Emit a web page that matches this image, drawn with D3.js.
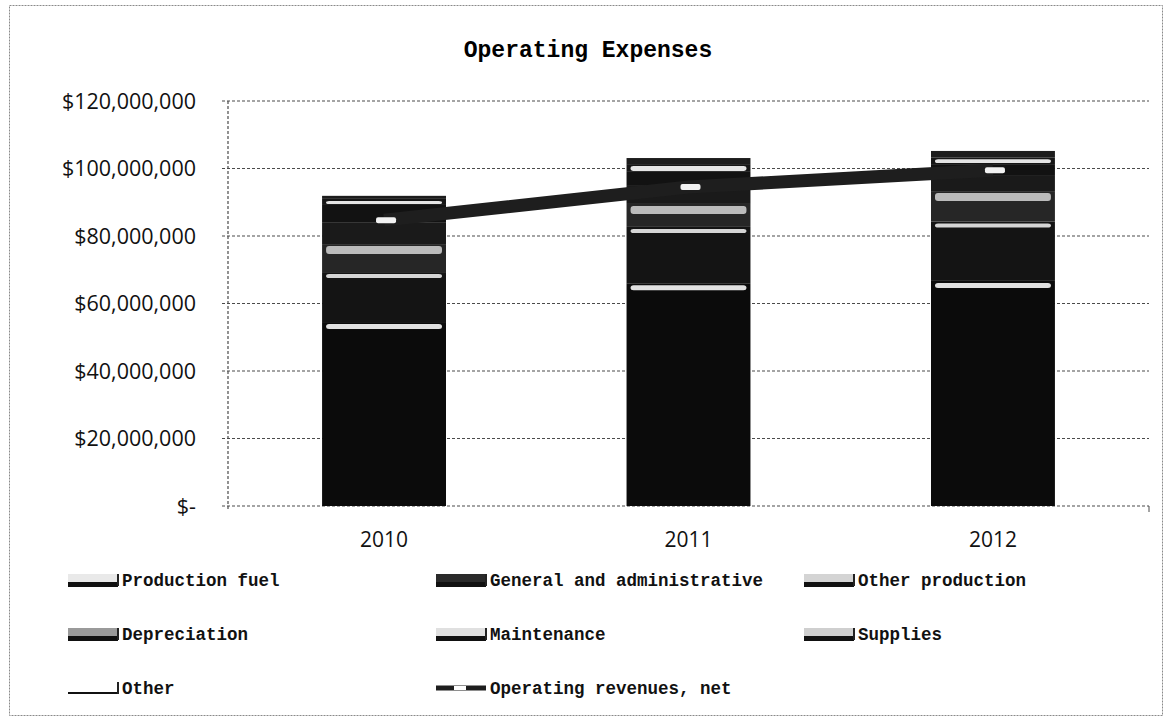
<!DOCTYPE html>
<html>
<head>
<meta charset="utf-8">
<script src="https://cdn.jsdelivr.net/npm/d3@7"></script>
<style>
  body { margin: 0; background: #fff; }
  svg { display: block; }
</style>
</head>
<body>
<svg id="chart" width="1171" height="722"></svg>
<script>
const years = ['2010', '2011', '2012'];
const seriesNames = ['Production fuel', 'General and administrative', 'Other production',
  'Depreciation', 'Maintenance', 'Supplies', 'Other'];

// millions of dollars
const productionFuel = [54.5, 66.0, 66.7];
const generalAdmin = [14.8, 16.7, 17.6];
const otherProduction = [8.3, 6.8, 9.0];
const depreciation = [6.5, 5.6, 4.5];
const maintenance = [5.1, 3.9, 3.5];
const supplies = [1.8, 2.3, 2.0];
const other = [0.9, 1.8, 1.9];
const operatingRevenues = [84.7, 94.5, 99.5];

const yTicks = [0, 20, 40, 60, 80, 100, 120];
const yTickLabels = ['$-', '$20,000,000', '$40,000,000', '$60,000,000', '$80,000,000',
  '$100,000,000', '$120,000,000'];

const seriesValues = [productionFuel, generalAdmin, otherProduction, depreciation,
  maintenance, supplies, other];

const rows = years.map((y, i) => {
  const r = {year: y};
  seriesNames.forEach((s, j) => { r[s] = seriesValues[j][i]; });
  return r;
});

// scanned look: dark fills, a light band on top of some segments
const segFill = ['#0b0b0b', '#141414', '#262626', '#1a1a1a', '#121212', '#161616', '#1c1c1c'];
const segHi = ['#f4f4f4', '#e6e6e6', '#c8c8c8', '#eeeeee', '#f2f2f2', '#f7f7f7', '#d0d0d0'];
const segHiH = [5, 4, 8, 0, 0, 8, 0];
const swatchFill = ['#e9e9e9', '#2a2a2a', '#d4d4d4', '#9a9a9a', '#e0e0e0', '#cfcfcf', '#ffffff'];

const svg = d3.select('#chart');

svg.append('rect')
  .attr('x', 9.5).attr('y', 5.5)
  .attr('width', 1153).attr('height', 710)
  .attr('fill', 'none')
  .attr('stroke', '#8a8a8a')
  .attr('stroke-dasharray', '2,1');

const x = d3.scaleBand()
  .domain(years)
  .range([228, 1149])
  .paddingInner(0.593)
  .paddingOuter(0.309);

const y = d3.scaleLinear()
  .domain([0, 120])
  .range([506, 101]);

svg.append('text')
  .attr('x', 588).attr('y', 57)
  .attr('text-anchor', 'middle')
  .style('font-family', '"Liberation Mono", "Courier New", monospace')
  .style('font-weight', 'bold')
  .style('font-size', '23px')
  .text('Operating Expenses');

// gridlines
svg.append('g')
  .selectAll('line')
  .data(yTicks)
  .join('line')
  .attr('x1', 222).attr('x2', 1149)
  .attr('y1', d => y(d)).attr('y2', d => y(d))
  .attr('stroke', '#4a4a4a')
  .attr('stroke-width', 1.2)
  .attr('stroke-dasharray', '3,2');

svg.append('line')
  .attr('x1', 228).attr('x2', 228)
  .attr('y1', y(120)).attr('y2', y(0) + 4)
  .attr('stroke', '#4a4a4a')
  .attr('stroke-width', 1.2)
  .attr('stroke-dasharray', '3,2');

svg.append('line')
  .attr('x1', 1149).attr('x2', 1149)
  .attr('y1', y(0)).attr('y2', y(0) + 6)
  .attr('stroke', '#4a4a4a');

svg.append('g')
  .selectAll('text')
  .data(yTicks)
  .join('text')
  .attr('x', 196)
  .attr('y', d => y(d))
  .attr('dy', '0.35em')
  .attr('text-anchor', 'end')
  .style('font-family', '"Open Sans", sans-serif')
  .style('font-size', '21.5px')
  .attr('fill', '#111')
  .text((d, i) => yTickLabels[i]);

svg.append('g')
  .selectAll('text')
  .data(years)
  .join('text')
  .attr('x', d => x(d) + x.bandwidth() / 2)
  .attr('y', 547)
  .attr('text-anchor', 'middle')
  .style('font-family', '"Open Sans", sans-serif')
  .style('font-size', '21px')
  .attr('fill', '#111')
  .text(d => d);

// stacked bars
const stacked = d3.stack().keys(seriesNames)(rows);

const layers = svg.append('g')
  .selectAll('g')
  .data(stacked)
  .join('g');

layers.selectAll('rect.seg')
  .data(d => d)
  .join('rect')
  .attr('class', 'seg')
  .attr('x', d => x(d.data.year))
  .attr('width', x.bandwidth())
  .attr('y', d => y(d[1]))
  .attr('height', d => y(d[0]) - y(d[1]))
  .attr('fill', function() { return segFill[d3.select(this.parentNode).datum().index]; });

layers.selectAll('rect.hi')
  .data(d => d)
  .join('rect')
  .attr('class', 'hi')
  .attr('x', d => x(d.data.year) + 4)
  .attr('width', x.bandwidth() - 8)
  .attr('y', d => y(d[1]) + 2)
  .attr('height', function(d) {
    const k = d3.select(this.parentNode).datum().index;
    return Math.max(0, Math.min(segHiH[k], y(d[0]) - y(d[1]) - 3));
  })
  .attr('rx', 3)
  .attr('fill', function() { return segHi[d3.select(this.parentNode).datum().index]; })
  .attr('opacity', 0.92);

// revenue line
const line = d3.line()
  .x((d, i) => x(years[i]) + x.bandwidth() / 2)
  .y(d => y(d));

svg.append('path')
  .datum(operatingRevenues)
  .attr('d', line)
  .attr('fill', 'none')
  .attr('stroke', '#1e1e1e')
  .attr('stroke-width', 13);

svg.append('g')
  .selectAll('rect')
  .data(operatingRevenues)
  .join('rect')
  .attr('x', (d, i) => x(years[i]) + x.bandwidth() / 2 - 8)
  .attr('y', d => y(d) - 3)
  .attr('width', 20).attr('height', 6)
  .attr('rx', 2)
  .attr('fill', '#f2f2f2');

// legend
const legendItems = seriesNames.concat(['Operating revenues, net']);
const colX = [68, 436, 804];
const rowY = [580, 634, 688];

const legend = svg.append('g')
  .selectAll('g')
  .data(legendItems)
  .join('g')
  .attr('transform', (d, i) => `translate(${colX[i % 3]},${rowY[Math.floor(i / 3)]})`);

legend.each(function(d, i) {
  const g = d3.select(this);
  if (i < seriesNames.length) {
    g.append('rect')
      .attr('x', 0).attr('y', -6)
      .attr('width', 50).attr('height', 12)
      .attr('fill', swatchFill[i]);
    g.append('rect')
      .attr('x', 0).attr('y', i === 6 ? 4 : 2)
      .attr('width', 50).attr('height', i === 6 ? 2 : 5)
      .attr('fill', '#111');
    g.append('rect')
      .attr('x', 49).attr('y', -6)
      .attr('width', 2).attr('height', 12)
      .attr('fill', '#222');
  } else {
    g.append('line')
      .attr('x1', 0).attr('x2', 50)
      .attr('y1', 0).attr('y2', 0)
      .attr('stroke', '#1e1e1e')
      .attr('stroke-width', 5);
    g.append('rect')
      .attr('x', 18).attr('y', -2)
      .attr('width', 12).attr('height', 4)
      .attr('fill', '#fff');
  }
  g.append('text')
    .attr('x', 54).attr('y', 0)
    .attr('dy', '0.35em')
    .style('font-family', '"Liberation Mono", "Courier New", monospace')
    .style('font-weight', 'bold')
    .style('font-size', '17.5px')
    .attr('fill', '#111')
    .text(d);
});
</script>
</body>
</html>
